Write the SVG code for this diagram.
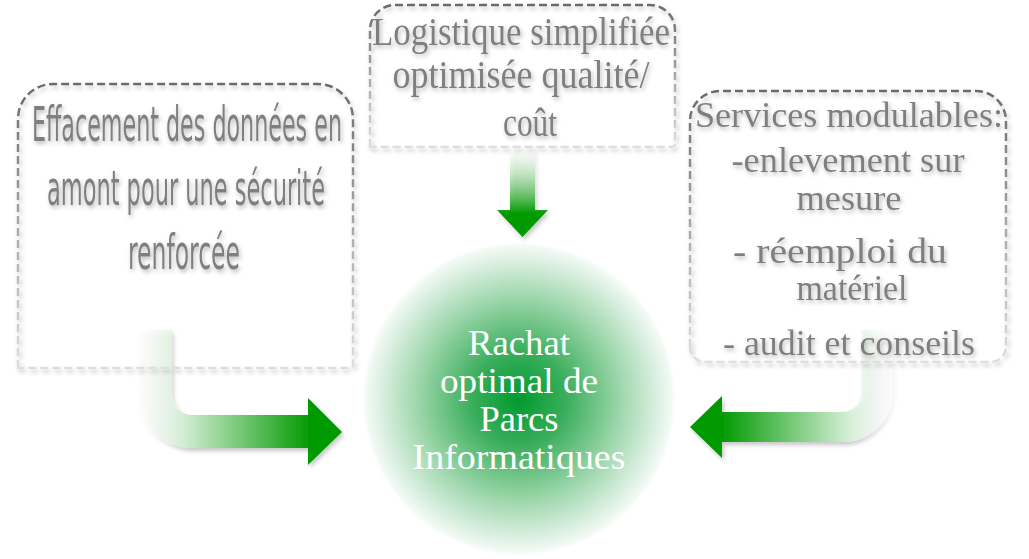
<svg xmlns="http://www.w3.org/2000/svg" width="1029" height="559" viewBox="0 0 1029 559">
<defs>
  <linearGradient id="boxStroke" x1="0" y1="0" x2="0" y2="1">
    <stop offset="0" stop-color="#6a6a6a"/>
    <stop offset="0.5" stop-color="#a8a8a8"/>
    <stop offset="1" stop-color="#dedede"/>
  </linearGradient>
  <radialGradient id="hub" cx="0.5" cy="0.5" r="0.5">
    <stop offset="0" stop-color="#009a2e"/>
    <stop offset="0.3" stop-color="#3aae5c"/>
    <stop offset="0.65" stop-color="#9fd7ad"/>
    <stop offset="0.88" stop-color="#dcf0e2"/>
    <stop offset="0.97" stop-color="#f3faf5"/>
    <stop offset="1" stop-color="#ffffff" stop-opacity="0"/>
  </radialGradient>
  <linearGradient id="gLeft" gradientUnits="userSpaceOnUse" x1="140" y1="0" x2="312" y2="0">
    <stop offset="0" stop-color="#ffffff" stop-opacity="0.2"/>
    <stop offset="0.25" stop-color="#d2eed4"/>
    <stop offset="1" stop-color="#009900"/>
  </linearGradient>
  <linearGradient id="gRight" gradientUnits="userSpaceOnUse" x1="890" y1="0" x2="720" y2="0">
    <stop offset="0" stop-color="#ffffff" stop-opacity="0.2"/>
    <stop offset="0.25" stop-color="#d2eed4"/>
    <stop offset="1" stop-color="#009900"/>
  </linearGradient>
  <linearGradient id="gDown" gradientUnits="userSpaceOnUse" x1="0" y1="150" x2="0" y2="214">
    <stop offset="0" stop-color="#ffffff" stop-opacity="0.3"/>
    <stop offset="1" stop-color="#009900"/>
  </linearGradient>
  <filter id="shadow" x="-10%" y="-10%" width="130%" height="130%">
    <feDropShadow dx="2" dy="3" stdDeviation="2" flood-color="#000" flood-opacity="0.22"/>
  </filter>
  <filter id="txtShadow" x="-10%" y="-20%" width="130%" height="160%">
    <feDropShadow dx="1.5" dy="2.5" stdDeviation="2" flood-color="#000" flood-opacity="0.28"/>
  </filter>
</defs>
<style>
  .box { fill: none; stroke: url(#boxStroke); stroke-width: 2.5; stroke-dasharray: 8 4; }
  .lbl { fill: #7f7f7f; text-anchor: middle; }
  .sansN { font-family: "Liberation Sans Narrow", "DejaVu Sans Condensed", "Liberation Sans", sans-serif; font-size: 48px; }
  .serifN { font-family: "Liberation Serif", "DejaVu Serif", serif; font-size: 39px; }
  .serif { font-family: "Liberation Serif", "DejaVu Serif", serif; font-size: 36px; }
  .hubTxt { fill: #ffffff; text-anchor: middle; font-family: "Liberation Serif", "DejaVu Serif", serif; font-size: 36px; }
</style>

<g id="hub-node">
  <circle cx="519" cy="399" r="158" fill="url(#hub)"/>
  <text class="hubTxt" x="519" y="355" textLength="102" lengthAdjust="spacingAndGlyphs">Rachat</text>
  <text class="hubTxt" x="519" y="393" textLength="158" lengthAdjust="spacingAndGlyphs">optimal de</text>
  <text class="hubTxt" x="519" y="431" textLength="79" lengthAdjust="spacingAndGlyphs">Parcs</text>
  <text class="hubTxt" x="519" y="469" textLength="213" lengthAdjust="spacingAndGlyphs">Informatiques</text>
</g>

<g id="connectors" filter="url(#shadow)">
  <path fill="url(#gLeft)" d="M137,330 L172,330 L172,395 A20,20 0 0 0 192,415 L308,415 L308,398 L342,432 L308,465 L308,448 L192,448 A55,55 0 0 1 137,393 Z"/>
  <path fill="url(#gDown)" d="M510,147 L535,147 L535,210 L548,210 L522.5,237 L497,210 L510,210 Z"/>
  <path fill="url(#gRight)" d="M862,330 L893,330 L893,392 A50,50 0 0 1 843,442 L722,442 L722,458 L690,427 L722,396 L722,412 L842,412 A20,20 0 0 0 862,392 Z"/>
</g>

<g id="node-left">
  <path class="box" filter="url(#shadow)" d="M18,368 L18,119 A35,35 0 0 1 53,84 L318,84 A35,35 0 0 1 353,119 L353,365 A3,3 0 0 1 350,368 Z"/>
  <g filter="url(#txtShadow)">
    <text class="lbl sansN" x="187" y="141" textLength="310" lengthAdjust="spacingAndGlyphs">Effacement des données en</text>
    <text class="lbl sansN" x="186" y="205" textLength="278" lengthAdjust="spacingAndGlyphs">amont pour une sécurité</text>
    <text class="lbl sansN" x="184" y="269" textLength="112" lengthAdjust="spacingAndGlyphs">renforcée</text>
  </g>
</g>

<g id="node-top">
  <path class="box" filter="url(#shadow)" d="M370,147 L370,30 A25,25 0 0 1 395,5 L650,5 A25,25 0 0 1 675,30 L675,144 A3,3 0 0 1 672,147 Z"/>
  <g filter="url(#txtShadow)">
    <text class="lbl serifN" x="521" y="45" textLength="298" lengthAdjust="spacingAndGlyphs">Logistique simplifiée</text>
    <text class="lbl serifN"><tspan x="521" y="88" textLength="257" lengthAdjust="spacingAndGlyphs">optimisée qualité/</tspan><tspan x="530" y="136" textLength="54" lengthAdjust="spacingAndGlyphs">coût</tspan></text>
  </g>
</g>

<g id="node-right">
  <path class="box" filter="url(#shadow)" d="M690,347 L690,121 A30,30 0 0 1 720,91 L976,91 A30,30 0 0 1 1006,121 L1006,347 A15,15 0 0 1 991,362 L705,362 A15,15 0 0 1 690,347 Z"/>
  <g filter="url(#txtShadow)">
    <text class="lbl serif" x="849" y="127" textLength="308" lengthAdjust="spacingAndGlyphs">Services modulables:</text>
    <text class="lbl serif" x="848" y="172" textLength="233" lengthAdjust="spacingAndGlyphs">-enlevement sur</text>
    <text class="lbl serif" x="849" y="210" textLength="105" lengthAdjust="spacingAndGlyphs">mesure</text>
    <text class="lbl serif" x="840" y="263" textLength="214" lengthAdjust="spacingAndGlyphs">- réemploi du</text>
    <text class="lbl serif" x="852" y="300" textLength="111" lengthAdjust="spacingAndGlyphs">matériel</text>
    <text class="lbl serif" x="849" y="355" textLength="252" lengthAdjust="spacingAndGlyphs">- audit et conseils</text>
  </g>
</g>
</svg>
